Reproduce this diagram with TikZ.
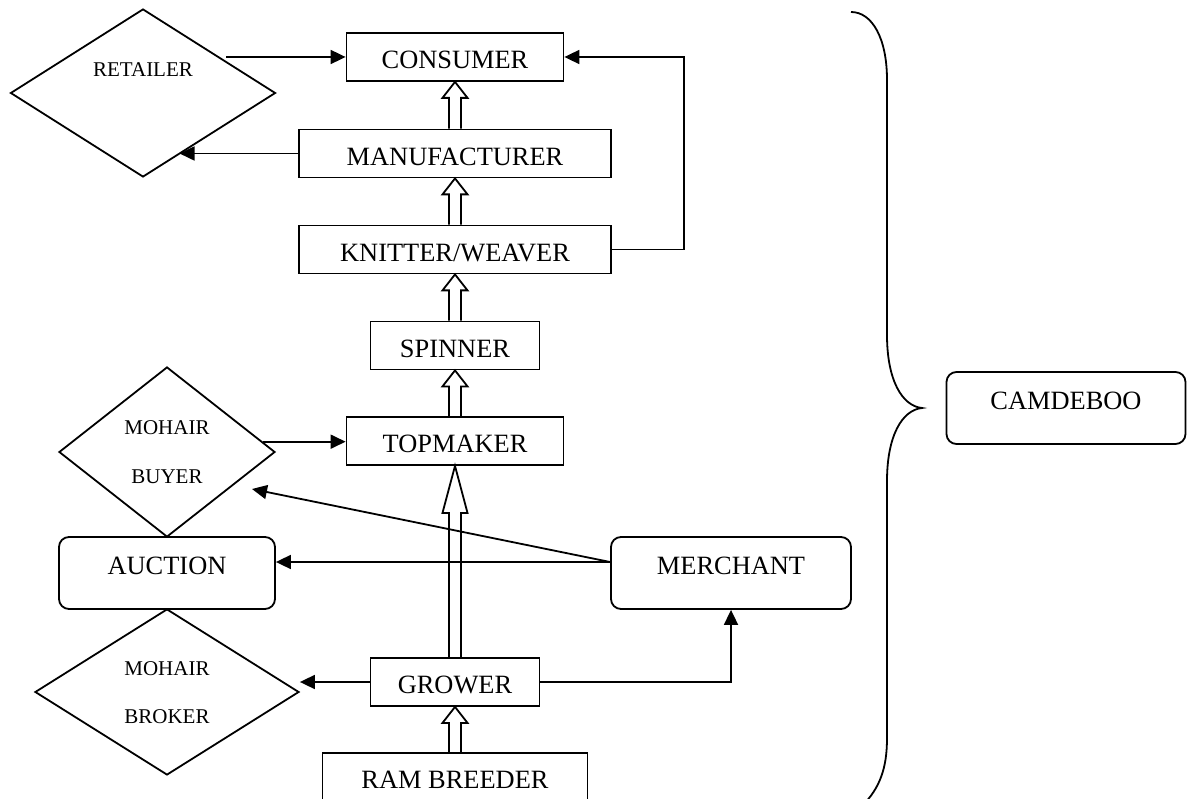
\documentclass[tikz,border=0pt]{standalone}
\usepackage{fontspec}
\setmainfont{Liberation Serif}
\usetikzlibrary{arrows.meta,calc,shapes.geometric}
\newcommand\bigtxt{\fontsize{26.4}{30}\selectfont}
\newcommand\smalltxt{\fontsize{21}{25}\selectfont}
\newcommand\hollowarrow[3]{%
  \draw ($(#1.north)+(-6,0)$) -- ($(#2.south)+(-6,#3)$) -- ($(#2.south)+(-12.5,#3)$)
    -- (#2.south) -- ($(#2.south)+(12.5,#3)$) -- ($(#2.south)+(6,#3)$) -- ($(#1.north)+(6,0)$);}
\begin{document}
\begin{tikzpicture}[x=1pt,y=-1pt,line width=1.8pt,
  pbox/.style={draw, rectangle, minimum width=#1, minimum height=48pt, inner sep=0pt,
    font=\bigtxt, text height=23.5pt, text depth=0pt},
  rbox/.style={draw, rectangle, rounded corners=10pt, minimum width=#1, minimum height=72pt,
    inner sep=0pt, font=\bigtxt, text height=17.5pt, text depth=14pt},
  dia/.style n args={2}{draw, diamond, minimum width=#1, minimum height=#2, inner sep=0pt},
  dtext/.style={font=\smalltxt, inner sep=0pt},
  arr/.style={-{Triangle[length=15pt,width=14pt]}}]
\useasboundingbox (0,0) rectangle (1188,799);

% nodes
\node[dia={265pt}{168pt}] (ret) at (143,93) {};
\node[dtext] (rett) at (143,70) {RETAILER};
\node[pbox=217pt] (con) at (455,57) {CONSUMER};
\node[pbox=312pt] (man) at (455,153.5) {MANUFACTURER};
\node[pbox=312pt] (kni) at (455,249.5) {KNITTER/WEAVER};
\node[pbox=169pt] (spi) at (455,345.5) {SPINNER};
\node[pbox=217pt] (top) at (455,441) {TOPMAKER};
\node[dia={216pt}{170pt}] (buy) at (167,452) {};
\node[dtext] (buyta) at (167,428) {MOHAIR};
\node[dtext] (buytb) at (167,477) {BUYER};
\node[rbox=216pt] (auc) at (167,573) {AUCTION};
\node[rbox=240pt] (mer) at (731,573) {MERCHANT};
\node[dia={264pt}{166pt}] (bro) at (167,692) {};
\node[dtext] (brota) at (167,669) {MOHAIR};
\node[dtext] (brotb) at (167,717) {BROKER};
\node[pbox=169pt] (gro) at (455,682) {GROWER};
\node[pbox=265pt] (ram) at (455,777) {RAM BREEDER};
\node[rbox=239pt] (cam) at (1066,408) {CAMDEBOO};

% hollow arrows
\hollowarrow{man}{con}{16}
\hollowarrow{kni}{man}{16}
\hollowarrow{spi}{kni}{16}
\hollowarrow{top}{spi}{16}
\hollowarrow{gro}{top}{47}
\hollowarrow{ram}{gro}{16}

% plain arrows
\coordinate (rs) at (226,57);
\draw[arr] (rs) -- (con.west);
\path (ret.east) -- (ret.south) coordinate[pos=0.726] (rm);
\draw[arr] (man.west) -- (man.west -| rm);
\draw[arr] (kni.east) -- ++(72,0) |- (con.east);
\path (buy.north) -- (buy.east) coordinate[pos=0.88] (bt);
\draw[arr] (bt) -- (bt -| top.west);
\coordinate (ms) at ($(mer.west)+(0,-11)$);
\coordinate (bt2) at (252,489);
\draw[arr] (ms) -- (bt2);
\draw[arr] (ms) -- (ms -| auc.east);
\draw[arr] (gro.west) -- (gro.west -| bro.east);
\draw[arr] (gro.east) -| (mer.south);

% brace
\draw (851,12) .. controls (872,12) and (887,38) .. (887,80)
  -- (887,335) .. controls (887,380) and (902,406) .. (922,408)
  .. controls (902,410) and (887,436) .. (887,481)
  -- (887,738) .. controls (887,768) and (880,788) .. (862,806);
\end{tikzpicture}
\end{document}
